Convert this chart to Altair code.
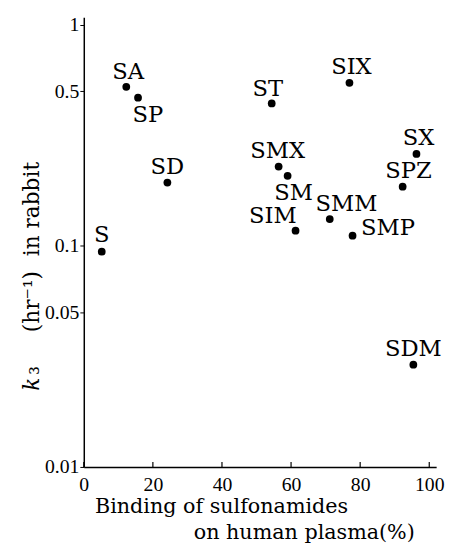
import altair as alt
import pandas as pd

# data
drugs = ["SA", "SP", "SD", "S", "ST", "SIX", "SMX", "SM", "SIM", "SMM", "SMP", "SX", "SPZ", "SDM"]
binding = [12.3, 15.7, 24.2, 5.2, 54.4, 76.9, 56.4, 59.0, 61.3, 71.2, 77.8, 96.3, 92.3, 95.4]
k3 = [0.523, 0.467, 0.193, 0.094, 0.44, 0.545, 0.228, 0.207, 0.117, 0.132, 0.111, 0.26, 0.185, 0.029]
x_ticks = [0, 20, 40, 60, 80, 100]
y_ticks = [0.01, 0.05, 0.1, 0.5, 1]

# label placement (pixel offsets from the point, style only)
label_offsets = {
    "SA": (2, -15), "SP": (10, 18), "SD": (0, -16), "S": (0, -17),
    "ST": (-4, -15), "SIX": (2, -16), "SMX": (-1, -16), "SM": (6, 18),
    "SIM": (-23, -15), "SMM": (17, -15), "SMP": (36, -8), "SX": (2, -16),
    "SPZ": (6, -16), "SDM": (0, -16),
}

df = pd.DataFrame({"drug": drugs, "binding": binding, "k3": k3})
ticks_df = pd.DataFrame({"t": x_ticks})

FONT = "DejaVu Serif"
TFONT = "Liberation Serif"
W, H = 358, 457

xs = alt.Scale(domain=[0, 102], nice=False, zero=False)
ys = alt.Scale(type="log", domain=[0.01, 1.08], nice=False)

base = alt.Chart(df)

points = base.mark_circle(size=62, color="black", opacity=1).encode(
    x=alt.X("binding:Q", scale=xs,
            axis=alt.Axis(values=x_ticks, ticks=False, grid=False, title=None,
                          labelFont=TFONT, labelFontSize=20, labelColor="black",
                          labelPadding=8, domainColor="black", domainWidth=1.5,
                          labelFlush=False)),
    y=alt.Y("k3:Q", scale=ys,
            axis=alt.Axis(values=y_ticks, grid=False, labelExpr="datum.value + ''",
                          tickSize=4, tickColor="black", labelPadding=1,
                          labelFont=TFONT, labelFontSize=20, labelColor="black",
                          domainColor="black", domainWidth=1.5, title=None)),
)

labels = []
for d in drugs:
    dx, dy = label_offsets[d]
    labels.append(
        base.transform_filter(alt.datum.drug == d).mark_text(
            font=FONT, fontSize=23, color="black", align="center",
            baseline="middle", dx=dx, dy=dy
        ).encode(x=alt.X("binding:Q", scale=xs), y=alt.Y("k3:Q", scale=ys), text="drug:N")
    )

inner_ticks = alt.Chart(ticks_df).mark_rule(color="black", strokeWidth=1.2).encode(
    x=alt.X("t:Q", scale=xs), y=alt.value(H - 5), y2=alt.value(H)
)

def label_text(txt, x, y, **kw):
    return alt.Chart(pd.DataFrame({"s": [txt]})).mark_text(
        font=FONT, color="black", **kw
    ).encode(x=alt.value(x), y=alt.value(y), text="s:N")

title1 = label_text("Binding of sulfonamides", 140, 504, fontSize=21, align="center",
                    baseline="alphabetic")
title2 = label_text("on human plasma(%)", 224, 530, fontSize=21, align="center",
                    baseline="alphabetic")
ytitle = [
    label_text("k", -53, 373, fontSize=22, align="center", baseline="middle",
               angle=270, fontStyle="italic"),
    label_text("\u2083", -53, 359, fontSize=22, align="center", baseline="middle", angle=270),
    label_text("(hr\u207b\u00b9)", -53, 289, fontSize=22, align="center", baseline="middle",
               angle=270),
    label_text("in rabbit", -53, 195, fontSize=22, align="center", baseline="middle",
               angle=270),
]

chart = alt.layer(points, inner_ticks, title1, title2, *ytitle, *labels).properties(
    width=W, height=H,
    autosize=alt.AutoSizeParams(type="none"),
    padding={"left": 77, "top": 5, "right": 10, "bottom": 75},
    background="white",
).configure_view(stroke=None)

chart.save("out.html", embed_options={"renderer": "svg", "actions": False})
